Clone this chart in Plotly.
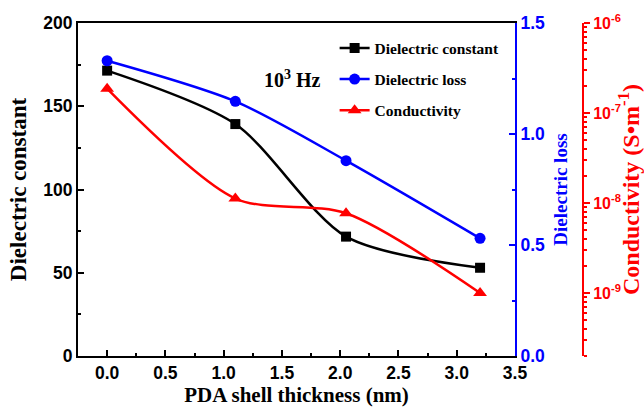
import plotly.graph_objects as go

thickness = [0.0, 1.1, 2.05, 3.2]
dielectric_constant = [171.4, 139.3, 71.7, 53.0]
dielectric_loss = [1.330, 1.147, 0.880, 0.530]
conductivity = [1.86e-7, 1.12e-8, 7.7e-9, 1.0e-9]

red_tickvals = [1e-9, 1e-8, 1e-7, 1e-6]
red_ticktext = ["10<sup>-9</sup>", "10<sup>-8</sup>", "10<sup>-7</sup>", "10<sup>-6</sup>"]
red_minor = [m * d for d in [1e-10, 1e-9, 1e-8, 1e-7] for m in range(2, 10) if m * d >= 2e-10]

SERIF = "Liberation Serif"
SANS = "Liberation Sans"

fig = go.Figure()
fig.add_trace(go.Scatter(
    x=thickness, y=dielectric_constant, name="Dielectric constant",
    mode="lines+markers", line=dict(color="black", width=2.5, shape="spline", smoothing=0.8),
    marker=dict(symbol="square", size=10, color="black"), legendgroup="a"))
fig.add_trace(go.Scatter(
    x=thickness, y=dielectric_loss, name="Dielectric loss", yaxis="y2",
    mode="lines+markers", line=dict(color="#0000ff", width=2.5, shape="spline", smoothing=0.8),
    marker=dict(symbol="circle", size=11, color="#0000ff"), legendgroup="b"))
fig.add_trace(go.Scatter(
    x=thickness, y=conductivity, name="Conductivity", yaxis="y3",
    mode="lines+markers", line=dict(color="#ff0000", width=2.5, shape="spline", smoothing=0.8),
    marker=dict(symbol="triangle-up", size=12, color="#ff0000"), legendgroup="c"))

tickf = dict(family=SANS, size=17.5, weight="bold")
fig.update_layout(
    width=644, height=409,
    margin=dict(l=78, r=20, t=23, b=53),
    paper_bgcolor="white", plot_bgcolor="white",
    showlegend=True,
    legend=dict(x=0.47, y=0.975, xanchor="left", yanchor="top",
                font=dict(family=SERIF, size=15.5, color="black", weight="bold"),
                bgcolor="rgba(0,0,0,0)", tracegroupgap=8, traceorder="grouped",
                itemwidth=30),
    xaxis=dict(domain=[0, 0.8004], range=[-0.25, 3.5], dtick=0.5, tick0=0, tickformat=".1f",
               automargin=False,
               showline=True, linecolor="black", linewidth=2, mirror=True,
               ticks="inside", ticklen=6, tickwidth=2, tickcolor="black",
               minor=dict(ticks="inside", ticklen=3, tickwidth=2, dtick=0.25, tick0=0, tickcolor="black"),
               showgrid=False, zeroline=False, tickfont=dict(color="black", **tickf),
               title=dict(text="PDA shell thickness (nm)", standoff=2,
                          font=dict(family=SERIF, size=21, color="black", weight="bold"))),
    yaxis=dict(range=[0, 200], dtick=50, automargin=False,
               showline=True, linecolor="black", linewidth=2,
               ticks="inside", ticklen=6, tickwidth=2, tickcolor="black",
               minor=dict(ticks="inside", ticklen=3, tickwidth=2, dtick=25, tickcolor="black"),
               showgrid=False, zeroline=False, tickfont=dict(color="black", **tickf),
               title=dict(text="Dielectric constant", standoff=10,
                          font=dict(family=SERIF, size=23, color="black", weight="bold"))),
    yaxis2=dict(range=[0, 1.5], dtick=0.5, tickformat=".1f", overlaying="y", side="right", anchor="x",
                automargin=False,
                showline=True, linecolor="#0000ff", linewidth=2,
                ticks="inside", ticklen=6, tickwidth=2, tickcolor="#0000ff",
                minor=dict(ticks="inside", ticklen=3, tickwidth=2, dtick=0.25, tickcolor="#0000ff"),
                showgrid=False, zeroline=False, tickfont=dict(color="#0000ff", **tickf),
                title=dict(text="Dielectric loss", standoff=10,
                           font=dict(family=SERIF, size=19, color="#0000ff", weight="bold"))),
    yaxis3=dict(type="log", range=[-9.7, -6], overlaying="y", side="right", anchor="free",
                position=0.9249, automargin=False, showline=True, linecolor="#ff0000", linewidth=2,
                tickvals=red_tickvals, ticktext=red_ticktext,
                ticks="outside", ticklen=6, tickwidth=2, tickcolor="#ff0000",
                minor=dict(ticks="outside", ticklen=3, tickwidth=1.5, tickvals=red_minor, tickcolor="#ff0000"),
                showgrid=False, zeroline=False, tickfont=dict(family=SANS, size=16, weight="bold", color="#ff0000"),
                title=dict(text="Conductivity (S\u2022m<sup>-1</sup>)", standoff=2,
                           font=dict(family=SERIF, size=24, color="#ff0000", weight="bold"))),
    annotations=[dict(text="10<sup>3</sup> Hz", x=0.392, y=0.874, xref="paper", yref="paper",
                      showarrow=False, font=dict(family=SERIF, size=20, color="black", weight="bold"))],
)

fig.write_html("out.html")
